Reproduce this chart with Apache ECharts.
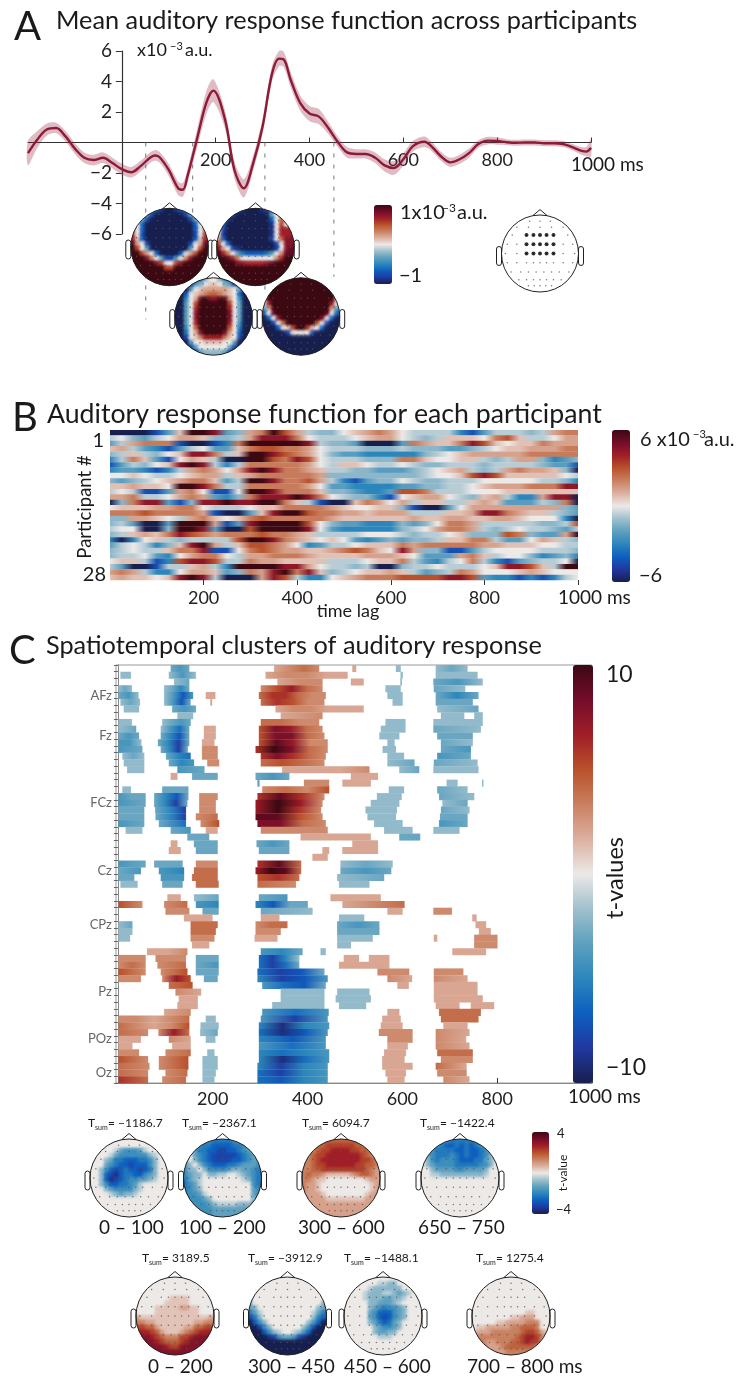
<!DOCTYPE html>
<html><head><meta charset="utf-8">
<script src="https://cdn.jsdelivr.net/npm/echarts@6/dist/echarts.min.js"></script>
<style>html,body{margin:0;padding:0;background:#fff}#c{width:736px;height:1376px}</style>
</head><body><div id="c"></div>
<script>
const FONT='Lato';
const palette=['#171f4f','#21389f','#0d5fbf','#2c86bb','#5da0bf','#a0c0cd','#ece9e7','#dcb0a0','#c9805f','#b9512c','#a01e27','#740d2a','#3c0812'];
// Panel A: mean response
const lagMs=[-200,-180,-160,-140,-120,-100,-80,-60,-40,-20,0,20,40,60,70,80,100,120,130,140,160,180,195,220,240,260,280,300,320,335,345,360,380,400,420,440,460,480,500,520,540,560,580,600,620,645,660,680,700,720,740,760,780,800,820,840,860,880,900,920,940,960,980,990,1000];
const meanResp=[-0.7,0.2,0.85,0.95,0.4,-0.4,-1.0,-1.15,-1.0,-1.35,-1.75,-1.95,-1.55,-1.0,-0.85,-0.95,-1.8,-3.0,-3.1,-2.2,0.2,2.6,3.4,1.5,-1.8,-3.0,-1.35,1.05,4.5,5.5,5.45,4.1,2.6,1.9,1.7,0.95,0.05,-0.65,-0.75,-0.75,-1.0,-1.5,-1.67,-1.1,-0.25,0.05,-0.25,-0.9,-1.3,-1.1,-0.7,-0.1,0.12,0.1,0.02,-0.02,0,0,-0.05,-0.05,-0.1,-0.3,-0.55,-0.6,-0.35];
const bandHalf=[.8,.55,.4,.35,.35,.35,.35,.35,.35,.35,.35,.35,.35,.35,.35,.35,.4,.45,.45,.45,.6,.75,.75,.6,.55,.6,.5,.5,.5,.5,.5,.5,.5,.5,.5,.4,.35,.35,.3,.3,.35,.4,.45,.4,.35,.35,.3,.3,.3,.3,.3,.25,.25,.25,.2,.2,.2,.2,.2,.2,.2,.2,.25,.3,.55];
const dashLags=[51,151,305,452];
const dashEnds=[-11.6,-10,-9.7,-8.8];
const lagTicks=[200,400,600,800];
const ampTicks=[-6,-4,-2,2,4,6];
// Panel B: participant responses, 0..1000 ms in 25 ms steps, read as colour steps -6..6
const participantRows=[
[-6,-6,-6,-6,-5,-3,1,6,6,5,-3,-2,2,3,6,4,2,-1,-2,-2,0,1,2,3,2,0,-1,-1,-1,-1,-4,-5,-3,-1,-1,-1,-2,-1,2,3,3],
[-1,0,-2,-3,-1,0,2,2,1,-2,-2,-1,2,5,5,5,3,0,-1,-1,-1,0,1,2,2,0,-1,-2,-1,1,1,1,0,3,4,1,-1,-1,0,2,2],
[-3,-1,2,3,3,3,-5,-6,-6,-5,-4,3,6,6,6,6,6,5,-1,-2,-2,-3,-6,-6,-6,-3,3,2,1,1,3,5,4,1,0,1,1,3,2,2,2],
[1,2,-1,-3,-4,-5,-3,-1,0,-3,-3,1,3,4,4,3,3,2,0,-1,-1,-1,-2,-2,-2,-1,-2,-2,-2,-3,-3,-2,-1,0,1,1,2,2,2,3,3],
[-2,-1,1,-1,-2,0,1,5,5,3,-1,1,6,6,5,4,3,2,0,-2,-3,-3,-4,-4,-4,-4,-4,-2,-1,0,1,2,2,2,2,2,3,3,3,3,3],
[-4,-1,3,1,-3,-5,0,2,1,-1,-6,-6,6,6,4,3,5,4,0,-1,-1,-1,-2,-2,-2,3,3,1,0,0,1,1,-1,-2,-1,2,2,-2,-4,-3,-2],
[-5,-3,-1,-2,0,1,5,6,5,-1,-4,-1,3,3,3,3,3,2,0,-1,1,1,0,-1,-1,0,-1,-2,-2,-1,-1,-1,-2,-1,-1,-1,-1,-2,-3,-3,-5],
[-4,-3,-3,-4,-5,-4,-1,2,3,2,0,2,5,6,5,3,3,2,1,-1,-1,-2,-2,-3,-3,-3,-2,-1,0,1,2,-1,-2,-1,2,3,2,2,1,-2,-6],
[0,0,1,0,-1,-1,0,1,2,2,-1,1,2,3,3,3,3,3,2,-2,-2,-2,-2,-2,-2,-2,-2,-1,0,0,1,4,5,4,1,1,1,1,1,0,-1],
[-2,-3,-2,-1,0,1,2,3,3,1,-3,-1,6,6,5,3,3,4,2,-1,-4,-5,-3,-2,-2,0,-1,-2,-2,-1,-1,-1,0,0,0,0,0,-1,-1,-2,-4],
[1,1,2,1,1,0,6,6,5,3,-1,-1,3,3,3,3,3,2,0,-3,-3,-4,-4,-4,-4,-3,-3,-2,-2,-1,-1,0,1,2,2,2,3,3,3,5,5],
[-1,0,-1,-5,-5,-3,2,3,0,-5,-5,0,6,6,5,3,3,3,1,-2,-2,-3,-4,-4,-3,4,4,3,-1,-1,-1,0,0,0,1,1,1,1,1,1,1],
[2,2,3,-1,-1,0,2,3,2,-3,-4,-2,3,5,5,5,6,5,3,0,-1,-2,-2,-4,-5,0,1,2,2,0,-1,-2,1,2,-1,-4,-4,2,5,5,-6],
[-6,-2,3,5,5,-3,-5,-2,5,5,6,5,5,6,6,3,1,-1,-5,-6,-6,1,3,2,0,2,-1,1,1,-1,-1,1,2,1,-3,-3,-3,-1,-2,3,-6],
[0,1,1,1,2,2,3,3,0,-1,-1,-1,0,1,1,3,3,3,3,2,1,0,0,1,1,-2,-5,-6,-6,-3,0,2,2,2,2,2,2,2,2,-2,-3],
[3,3,3,4,3,3,3,3,2,-5,-6,-6,-3,1,5,6,6,4,3,3,2,2,1,2,2,2,-1,-1,-1,1,1,2,5,5,3,2,1,1,-1,-2,-3],
[-2,-2,2,2,1,0,-1,2,3,1,0,1,3,4,3,3,3,3,3,2,1,1,1,1,1,1,2,1,1,2,2,1,1,2,2,1,0,0,0,-4,-6],
[-2,-1,-3,-6,-6,-3,6,6,6,2,-5,-3,5,6,6,6,6,4,0,-2,-3,-3,-4,-4,-4,-2,-3,-2,0,3,3,2,-1,-1,-1,-1,-1,-2,-2,-1,4],
[-1,0,0,-6,-6,-2,6,6,5,-3,-6,-6,4,6,6,6,6,5,0,-3,-4,-4,-4,-4,-4,-2,-1,0,2,3,3,2,-1,-2,-1,0,-1,-1,-2,-3,-1],
[-2,-1,1,2,1,3,5,4,3,2,3,3,3,4,3,3,2,1,-1,-1,-1,-1,0,0,0,-1,-2,-1,-1,0,1,-2,-2,-2,4,3,-2,-3,-3,2,6],
[-4,-6,-4,0,1,-1,-2,-1,-1,-1,-1,4,6,6,5,3,2,1,0,1,0,-3,-4,-3,-2,-3,-2,-2,-1,1,1,3,3,-1,-3,-3,0,2,1,-1,-2],
[-3,-1,0,-1,-4,-2,1,5,6,2,-1,1,4,4,3,2,0,-4,-3,-1,-1,0,1,1,1,3,2,3,3,3,3,3,2,2,1,1,1,0,0,-1,-1],
[-2,-1,0,-1,-1,1,3,3,5,-5,-5,0,3,4,3,2,2,1,1,2,3,4,3,1,0,5,2,-2,-2,-5,-5,-3,-1,0,0,0,0,-1,-1,-1,-2],
[-2,-1,-1,0,-3,-4,0,2,3,3,0,-1,2,2,3,3,3,2,1,1,1,1,2,2,2,1,0,-3,-3,-3,2,3,1,-1,0,0,-2,-4,-3,-2,-4],
[0,1,1,-1,-5,-4,4,5,5,4,-1,-1,3,2,2,1,1,1,1,-1,-1,-1,0,1,1,3,-1,-3,-4,-1,0,3,-1,-4,-5,-3,-2,-1,-1,0,-6],
[-1,-3,-6,-6,-5,-1,-1,1,2,-1,-4,6,6,6,6,5,5,2,0,-1,-1,-2,-1,-6,-6,-2,-1,-1,0,-1,-1,-1,0,1,5,5,4,1,-1,6,6],
[2,3,2,-1,-4,-4,0,2,2,1,-3,-2,3,2,5,6,3,5,1,-2,-1,0,1,1,2,1,-1,-3,-2,-1,3,2,0,0,0,1,2,1,0,0,0],
[1,2,1,1,0,1,5,6,5,-1,-6,-6,-6,2,5,4,-1,-4,-4,0,1,2,3,3,3,4,4,4,4,5,5,4,-3,-4,-4,-5,-4,-5,-4,-1,0]
];
// colour step -> x10^-3 a.u. (steps were read from hue, which is not linear in amplitude)
const stepAmplitude=[0,0.7,1.3,2.1,3.0,4.4,6];
// Panel C: clusters per channel row; each blob = [from ms, to ms, t-values evenly spread across it...]
const clusterRows=[
[[110,152,-3,-4,-3],[328,426,2,3,4,3],[493,504,2],[585,598,-2],[669,739,-2,-3,-2]],
[[4,29,-2],[106,166,-2,-4,-2],[310,486,2,3,3,2,2],[595,602,-2],[669,760,-2,-2,-2]],
[[117,152,-2,-3],[335,433,2,3,3],[490,520,2],[595,600,-2],[664,771,-3,-4,-2]],
[[0,31,-2,-3,-2],[96,152,-2,-3,-5,-3],[300,433,3,5,7,4,3],[563,598,-2,-2],[665,734,-3,-2]],
[[0,45,-3,-4,-2],[96,160,-2,-4,-7,-4],[184,207,2],[296,440,4,6,6,4,3,3],[567,602,-2],[669,762,-3,-5,-3]],
[[4,48,-2,-3,-2],[96,155,-2,-4,-7,-3],[194,200,2],[300,437,4,6,5,3,3],[578,602,-2],[669,750,-3,-3]],
[[11,46,-2],[113,166,-3,-4,-3],[331,520,2,3,3,2,2,2],[672,762,-2,-3]],
[[124,160,-2],[342,433,2,3],[680,732,-2],[750,771,-2]],
[[0,31,-2],[92,155,-2,-3,-4,-3],[300,426,4,4,3,3],[563,608,-2],[664,771,-2,-2,-2]],
[[0,40,-2,-3],[89,152,-2,-4,-6,-3],[180,208,2],[296,433,5,8,7,4,3],[553,608,-2],[664,767,-3,-2]],
[[0,46,-3,-4,-3],[89,152,-3,-5,-7,-3],[180,208,2],[296,437,5,8,8,4,3],[550,595,-2],[672,750,-3]],
[[0,51,-4,-4,-2],[83,152,-3,-5,-8,-3],[176,205,2],[296,444,5,9,7,3,3],[567,585,-2],[680,750,-3,-2]],
[[0,53,-4,-3],[89,149,-3,-5,-8,-3],[176,212,3],[289,444,6,10,8,4,3],[557,588,-2],[680,746,-3,-4]],
[[8,57,-2,-3,-2],[100,155,-3,-5,-6],[176,212,3],[300,440,6,8,6,4,3],[567,605,-2],[672,746,-4,-3]],
[[11,57,-2],[106,162,-3,-5,-4],[187,215,3],[300,437,4,5,4,3],[567,627,-2,-3],[665,760,-3,-2]],
[[18,57,-2],[124,184,-4,-3],[345,532,2,2,2,3],[592,637,-2,-3],[664,762,-2]],
[[110,127,2],[155,212,-3],[289,363,-3,-4,-3],[490,550,2]],
[[293,300,-3],[391,447,3],[472,535,2],[692,718,-2],[767,772,-2]],
[[8,29,-2],[92,150,-3],[303,447,3,4,3,5],[570,605,-2],[672,739,-3,-2]],
[[0,60,-4,-3,-3],[75,150,-3,-5,-7,-3],[170,212,3],[293,437,6,9,6,3],[545,600,-2],[676,753,-3,-2]],
[[0,60,-4,-3],[75,148,-3,-5,-8,-3],[170,208,3],[289,433,7,10,7,3],[532,595,-2],[683,739,-2,-3]],
[[0,57,-3],[77,145,-3,-5,-8],[170,208,3],[289,430,7,10,6,3],[521,590,-2],[680,743,-3,-2]],
[[0,57,-3],[78,145,-3,-5,-8],[163,212,3,4],[289,433,9,9,5,3],[525,588,-2],[678,739,-3]],
[[0,57,-4,-3],[85,145,-3,-6],[173,215,3,5],[293,440,8,8,4,3],[539,602,-2],[676,739,-4,-3]],
[[15,53,-2],[110,155,-3,-4],[184,212,2],[300,444,3,3],[560,623,-2],[664,722,-2]],
[[145,194,-3],[384,535,2,2],[592,639,-3]],
[[110,127,2],[159,212,-3],[291,363,-3,-4,-3],[493,550,2]],
[[106,134,2],[163,212,-3],[296,363,-3],[430,447,2],[472,550,2]],
[[409,444,2]],
[[0,60,-4,-3],[75,138,-3],[163,212,3],[293,388,6,9,4],[468,581,-2,-3,-2]],
[[0,50,-3,-4],[85,141,-4,-5],[159,212,4],[289,388,7,10,9,4],[468,578,-3,-4,-3]],
[[0,36,-3],[89,141,-4],[155,212,4],[293,384,5,6,4],[461,563,-2,-3]],
[[4,43,-2],[92,138,-3],[163,214,4],[293,377,4,3],[465,532,-2]],
[],
[[103,134,2],[159,214,-2,-3],[296,359,-3,-4],[447,556,2]],
[[0,53,5,3],[96,148,3,4],[163,214,-4,-5],[289,402,-5,-7,-3,-3],[472,606,2,3,4]],
[[99,152,3],[177,214,-3],[300,412,-3,-2],[567,602,2],[664,706,3]],
[[138,201,2],[300,342,2],[465,521,-2],[746,758,2]],
[[0,32,-2,-3],[152,212,4],[289,359,3,4,4],[461,553,-3,-4,-3],[753,778,2]],
[[0,32,-2],[152,208,4],[289,345,3],[461,553,-3],[760,788,2]],
[[0,27,-2],[152,205,3],[287,338,2],[461,539,-2],[665,675,2],[750,802,3]],
[[155,194,2],[461,493,-2],[750,802,3]],
[[60,148,2,2,3],[300,391,-4,-5,-3],[426,440,-2],[704,778,2]],
[[0,60,3],[78,145,3],[163,214,-3],[296,384,-6,-8,-5,-2],[475,510,2],[528,574,2]],
[[0,60,3,4,3],[82,145,3,4],[163,214,-3,-4],[296,384,-6,-8,-6,-3],[465,574,2]],
[[0,60,5,3],[89,148,3,5],[163,214,-3],[293,437,-6,-8,-7,-3],[546,616,3],[665,730,3]],
[[0,50,3],[92,155,3,7,5],[180,212,-3],[293,444,-5,-8,-7,-4],[567,622,3,2],[665,739,3,2]],
[[106,159,4,5],[303,440,-4,-6,-7,-3],[588,615,2],[665,760,2]],
[[120,177,3,2],[342,437,-2,-2],[461,532,-2],[665,760,2]],
[[127,170,2],[342,437,-2],[458,535,-2],[665,771,2]],
[[124,170,2],[324,437,-2],[465,525,-2],[669,722,2],[743,795,2]],
[[96,155,2,3],[303,446,-4,-6,-4],[567,595,2],[676,767,4]],
[[0,152,3,3,2,3,4],[184,208,-2],[300,444,-4,-8,-4],[556,598,2],[680,762,4,4]],
[[0,152,4,3,2,3,5],[173,214,-2],[296,447,-5,-9,-5,-4],[553,602,2],[685,739,2]],
[[0,65,4,3],[84,152,3,7,4],[172,212,-2,-3],[296,444,-6,-9,-7,-4],[549,623,3],[669,743,3,2]],
[[0,50,2],[106,155,3,2],[184,207,-2],[296,440,-5,-7,-4],[567,623,3],[669,736,3,2]],
[[0,32,2],[113,155,2],[296,440,-4,-6,-4],[567,613,2],[669,743,3,2]],
[[0,46,3],[99,155,3,4],[187,205,-2],[296,447,-5,-6,-5,-4],[560,609,2],[672,750,4]],
[[0,65,5,3],[85,150,3,5],[177,212,-2],[296,447,-5,-9,-6,-4],[556,606,2],[680,750,3]],
[[0,68,4,3],[85,150,3,5],[177,212,-2],[293,444,-5,-8,-5,-4],[556,623,2],[669,737,4,2]],
[[0,65,4,3],[99,148,3,4],[177,208,-2],[293,444,-6,-8,-5,-4],[563,609,2],[672,737,3]],
[[0,65,6,4],[92,145,3,4],[177,205,-2],[293,444,-6,-7,-5,-4],[567,606,2],[685,743,3,2]]
];
const channelLabels={4:'AFz',10:'Fz',20:'FCz',30:'Cz',38:'CPz',48:'Pz',55:'POz',60:'Oz'};
// Scalp maps: digit = positive level (9 = colour-bar maximum), letter a..i = negative level, '.' = zero
const mapA1=["....efhiihfe....","...cgiiiiiigc...","..cgiiiiiiiigc..",".0fiiiiiiiiiif0.","30fiiiiiiiiiif03","50giiiiiiiiiig05","61fiiiiiiiiiif16","820giiiiiiiig028","950ciiiiiiiic059","99520fiiiif02599","99973.cggc.37999","9999975005799999","9999999559999999","9999999999999999","9999999999999999","9999999999999999"];
const mapA2=["...efhiiihgc....","..egiiiiiiic.3..",".0hiiiiiiiif.4..",".fiiiiiiiiih.5..","0giiiiiiiiih.666","0hiiiiiiiiih.666","2fiiiiiiiiig0477","50fiiiiiiiiig.77","720ghiiiiiiig.78","9630ceffffec0388","9986300000003699","9999776666789999","9999999999999999","9999999999999999","9999999999999999","9999999999999999"];
const mapA3=["iiiigeb..begiiii","iiigcb.11.bcgiii","iiic.1222221.cii","iif.12344321.fii","iid.28977982.dii","iic.59999995.cii","iic.69999996.cii","iic.79999997.cii","iic.79999997.cii","iic.69999996.dii","iid.49999994.eii","iie.27999972.fii","iig.13666631.gii","iiic..1111..ciii","iiigc......cgiii","iiiigcbbbbcgiiii"];
const mapA4=["....99999999....","..99999999999999","4999999999999994","2999999999999992","2999999999999992","0699999999999960","c29999999999992c","f.899999999998.f","if.7999999997.fi","iig.49999994.gii","iiif.159951.fiii","iiiiig....giiiii","iiiiiiiiiiiiiiii","iiiiiiiiiiiiiiii","iiiiiiiiiiiiiiii","iiiiiiiiiiiiiiii"];
const mapC1=["................","................",".....acdddca....","....acddddddba..","...bceefffeedb..","...cdeffgfffdb..","..bdfgfeffgfeb..","..bfghfeeffdcb..","..bfhgfeddccba..","..bdffeedca.....","...bcddddba.....","....abcbba......","................","................","................","................"];
const mapC2=["ccccddeeeedccccc","bbcdeeffffeedcbc","baceeffggffedcbc","b.cdefgggggfedcc","c.bdefggggffedcc","cb.bdefffeedcccd","dbb.bddddcbbccde","dcbb.bbaa..abcde","ecba........abde","edca..........de","edcb..........cd","dddca.........cd","ddddcb........bc","cddddcbaaaabbbcc","ccddddccccccccbc","ccddddccccccccbc"];
const mapC3=["2233444444443322","2234455555544332","3334556666554432","3345566666665433","3345666666665543","3345566666655443","3344555555555432","3433211111234432","3321100000000122","3221000000000012","3221000000000012","2222100000000122","2222211111111222","2222222222222222","2222222222222222","2222222222222222"];
const mapC4=["..abcdeeeeedba..",".bcdeffefefedb..","bcdeeeeffeffedb.","bcdeeedefeffedb.",".bdedddefffeecb.",".bcddddeeeeeddb.","..bccccddccccb..","..aabbbbbbbbba..","................","................","................","................","................","................","................","................"];
const mapC5=["................","................","................","................",".......1111.....","......11111.....","....111112211...","....111111111...","2111111111111112","3322111111112233","5544211111224455","6665421112345666","7776543335567777","7777654445677777","7777776557777777","7777777777777777"];
const mapC6=["................","................","................","................","................","b..............b","cb............bc","eca..........ace","geb..........bef","ifdb........bdfi","iigdb......bdgii","iiifdba..abdfiii","iiiihgdccdghiiii","iiiiiiiiiiiiiiii","iiiiiiiiiiiiiiii","iiiiiiiiiiiiiiii"];
const mapC7=["................",".......aabb.....",".....abbbbbb....","....abbbaabcba..","....abbbccbba...",".....bbcccba....",".....bcdeddcb...",".....cdfffdcb...",".....cdfgfdcb...",".....bcefecb....","......bcddcb....","......bccbb.....",".......aaa......","................","................","................"];
const mapC8=["................","................","................","................","................","................","................","...........11...","........11222...",".....112222333..",".1122222334443..","1222333333455421","2333333334566531","2332233344565521","1332223444444211","..11222333332..."];
const electrodeRows=[[.84,[-.27,0,.27]],[.68,[-.6,-.3,0,.3,.6]],[.48,[-.72,-.35,-.17,0,.17,.35,.72]],[.24,[-.85,-.6,-.35,-.17,0,.17,.35,.6,.85]],[0,[-.9,-.6,-.35,-.17,0,.17,.35,.6,.9]],[-.24,[-.85,-.6,-.35,-.17,0,.17,.35,.6,.85]],[-.48,[-.75,-.5,-.3,-.1,.1,.3,.5,.75]],[-.68,[-.55,-.35,-.17,0,.17,.35,.55]],[-.84,[-.3,-.15,0,.15,.3]]];
const highlightRows=[.48,.24,0];
const highlightX=[-.35,-.17,0,.17,.35];

const stopsRGB=palette.map(h=>[parseInt(h.slice(1,3),16),parseInt(h.slice(3,5),16),parseInt(h.slice(5,7),16)]);
function rgbOf(v,max){let f=Math.max(0,Math.min(1,(v+max)/(2*max)))*(stopsRGB.length-1);const i=Math.min(stopsRGB.length-2,Math.floor(f));f-=i;return stopsRGB[i].map((c,k)=>Math.round(c+(stopsRGB[i+1][k]-c)*f));}
function css(rgb,a){return a===undefined?`rgb(${rgb})`:`rgba(${rgb},${a})`;}

const grids=[],xAxes=[],yAxes=[],series=[];
const axisInk='#333';
function addAxes(g,x,y){grids.push(g);xAxes.push(Object.assign({gridIndex:grids.length-1},x));yAxes.push(Object.assign({gridIndex:grids.length-1},y));return grids.length-1;}

// A
const gA=addAxes({left:28,top:51,width:563,height:183},
 {type:'value',min:-200,max:1000,interval:200,splitLine:{show:false},axisLine:{show:true,onZero:true,lineStyle:{color:axisInk,width:1.2}},axisTick:{show:true,inside:true,length:5,customValues:lagTicks.concat([1000]),lineStyle:{color:axisInk}},axisLabel:{customValues:lagTicks,color:'#222',fontSize:18,margin:-83,fontFamily:FONT,hideOverlap:false}},
 {type:'value',min:-6,max:6,interval:2,splitLine:{show:false},axisLine:{show:true,onZero:true,lineStyle:{color:axisInk,width:1.2}},axisTick:{show:true,length:6,customValues:ampTicks,lineStyle:{color:axisInk}},axisLabel:{customValues:ampTicks,color:'#222',fontSize:19,margin:-84,fontFamily:FONT,formatter:v=>String(v).replace('-','\u2212')}});
dashLags.forEach((t,i)=>series.push({type:'line',xAxisIndex:gA,yAxisIndex:gA,data:[[t,0],[t,dashEnds[i]]],showSymbol:false,clip:false,z:1,silent:true,lineStyle:{color:'#777',width:1,type:[4,7]}}));
series.push({type:'custom',xAxisIndex:gA,yAxisIndex:gA,data:lagMs.map((t,i)=>[t,meanResp[i]-bandHalf[i],meanResp[i]+bandHalf[i]]),encode:{x:0,y:[1,2]},silent:true,z:2,
 renderItem(params,api){ if(params.dataIndex!==0) return null;
  const lo=lagMs.map((t,i)=>api.coord([t,meanResp[i]-bandHalf[i]])),hi=lagMs.map((t,i)=>api.coord([t,meanResp[i]+bandHalf[i]]));
  return {type:'polygon',shape:{points:lo.concat(hi.reverse()),smooth:.3},style:{fill:'rgba(150,30,65,0.3)'}};}});
series.push({type:'line',xAxisIndex:gA,yAxisIndex:gA,data:lagMs.map((t,i)=>[t,meanResp[i]]),smooth:.35,showSymbol:false,lineStyle:{color:'#8e1b35',width:2.4},silent:true,z:3});

// strip renderer for B and C
function stripRenderer(lookup,max,soft){return function(params,api){
 const a=api.coord([api.value(0),api.value(2)]),b=api.coord([api.value(1),api.value(2)]),h=api.size([0,1])[1];
 const lv=lookup[api.value(3)],w=b[0]-a[0];let stops=[];
 const e=soft?Math.min(.3,1.2/w):0;
 const cols=lv.map(v=>rgbOf(v,max));
 if(soft){stops.push({offset:0,color:css(cols[0],0)});stops.push({offset:e,color:css(cols[0],1)});}
 cols.forEach((c,i)=>{const o=cols.length>1?e+(1-2*e)*i/(cols.length-1):e;stops.push({offset:o,color:css(c)});});
 if(cols.length===1)stops.push({offset:1-e,color:css(cols[0])});
 if(soft)stops.push({offset:1,color:css(cols[cols.length-1],0)});
 return {type:'rect',shape:{x:a[0],y:a[1]-h/2,width:w,height:h+.3},style:{fill:{type:'linear',x:0,y:0,x2:1,y2:0,colorStops:stops}}};
};}

// B
const gB=addAxes({left:110,top:430,width:468,height:150},
 {type:'value',min:0,max:1000,interval:200,splitLine:{show:false},axisLine:{show:false},axisTick:{show:true,length:5,customValues:lagTicks.concat([1000]),lineStyle:{color:axisInk}},axisLabel:{customValues:lagTicks,color:'#222',fontSize:18,margin:9,fontFamily:FONT}},
 {type:'category',inverse:true,data:participantRows.map((r,i)=>String(i+1)),axisLine:{show:false},axisTick:{show:false},axisLabel:{show:false}});
const participantAmps=participantRows.map(r=>r.map(s=>Math.sign(s)*stepAmplitude[Math.abs(s)]));
const bData=participantAmps.map((r,i)=>[0,1000,i,i,Math.max(...r)]);
const bIdx=series.length;
series.push({type:'custom',xAxisIndex:gB,yAxisIndex:gB,data:bData,encode:{x:[0,1],y:2},renderItem:stripRenderer(participantAmps,6,false),silent:true});

// C
const gC=addAxes({left:116,top:665,width:476,height:418,show:true,borderColor:'#999',borderWidth:1,backgroundColor:'transparent'},
 {type:'value',min:-4,max:1000,splitLine:{show:false},axisLine:{show:true,lineStyle:{color:'#888'}},axisTick:{show:true,inside:true,length:5,customValues:lagTicks.concat([1000]),lineStyle:{color:axisInk}},axisLabel:{customValues:lagTicks,color:'#222',fontSize:18,margin:7,fontFamily:FONT}},
 {type:'category',inverse:true,data:clusterRows.map((r,i)=>channelLabels[i]||''),axisLine:{show:true,lineStyle:{color:'#888'}},axisTick:{show:true,length:4,interval:0,lineStyle:{color:'#666'}},axisLabel:{interval:0,color:'#666',fontSize:13,margin:4,fontFamily:FONT}});
const blobLevels=[],cData=[];
clusterRows.forEach((blobs,row)=>blobs.forEach(b=>{const lv=b.slice(2);cData.push([b[0],b[1],row,blobLevels.length,lv[0]]);blobLevels.push(lv);}));
const cIdx=series.length;
series.push({type:'custom',xAxisIndex:gC,yAxisIndex:gC,data:cData,encode:{x:[0,1],y:2},renderItem:stripRenderer(blobLevels,10,true),silent:true});

// scalp maps: an opaque cell pass, then a soft pass so cell edges melt like the rendered scalp field
const electrodes=[];electrodeRows.forEach(r=>r[1].forEach(x=>electrodes.push([x,r[0]])));
function decode(ch,max){if(ch>='1'&&ch<='9')return (+ch)/9*max;if(ch>='a'&&ch<='i')return -(ch.charCodeAt(0)-96)/9*max;return 0;}
function topoRender(n){const step=2/n;return function(params,api){
 const c=api.coord([api.value(0),api.value(1)]),s=api.size([step,step]),o=api.coord([0,0]),r=api.size([1,1])[0];
 const col=api.visual('color');
 return {type:'rect',shape:{x:c[0]-s[0]/2-.4,y:c[1]-s[1]/2-.4,width:s[0]+.8,height:s[1]+.8},style:{fill:col},clipPath:{type:'circle',shape:{cx:o[0],cy:o[1],r:r}}};
};}
function topoSoft(n,max){const step=2/n;return function(params,api){
 const c=api.coord([api.value(0),api.value(1)]),s=api.size([step,step]),o=api.coord([0,0]),r=api.size([1,1])[0];
 const rgb=rgbOf(api.value(2),max);
 return {type:'circle',shape:{cx:c[0],cy:c[1],r:s[0]*1.15},style:{fill:{type:'radial',x:.5,y:.5,r:.5,colorStops:[{offset:0,color:css(rgb,.8)},{offset:.5,color:css(rgb,.55)},{offset:1,color:css(rgb,0)}]}},clipPath:{type:'circle',shape:{cx:o[0]-c[0]+c[0],cy:o[1],r:r}}};
};}
const heads=[];
function addMap(rows,cx,cy,r,max){
 const g=addAxes({left:cx-r,top:cy-r,width:2*r,height:2*r},
  {type:'value',min:-1,max:1,show:false,splitLine:{show:false}},{type:'value',min:-1,max:1,show:false,splitLine:{show:false}});
 heads.push([cx,cy,r]);
 let idx=null;
 if(rows){const n=rows.length,cells=[];
  rows.forEach((row,j)=>{for(let i=0;i<n;i++){const x=-1+(i+.5)*2/n,y=1-(j+.5)*2/n;if(Math.hypot(x,y)<1+1.6/n)cells.push([x,y,decode(row[i]||'.',max)]);}});
  idx=[series.length];
  series.push({type:'custom',xAxisIndex:g,yAxisIndex:g,data:cells,renderItem:topoRender(n),silent:true,z:4});
  series.push({type:'custom',xAxisIndex:g,yAxisIndex:g,data:cells,renderItem:topoSoft(n,max),silent:true,z:4,clip:false});}
 series.push({type:'scatter',xAxisIndex:g,yAxisIndex:g,data:electrodes,symbolSize:1.5,itemStyle:{color:'#555'},silent:true,z:5});
 return {g,idx};
}
const amaps=[[mapA1,169.5,247],[mapA2,255.5,247],[mapA3,213.5,316.5],[mapA4,301,316.5]].map(m=>addMap(m[0],m[1],m[2],38.7,1));
const emap=addMap(null,540,253.5,38.5,1);
series.push({type:'scatter',xAxisIndex:emap.g,yAxisIndex:emap.g,data:highlightRows.flatMap(y=>highlightX.map(x=>[x,y])),symbolSize:4,itemStyle:{color:'#000'},silent:true,z:6});
const cmaps=[[mapC1,129,1178],[mapC2,222.5,1178],[mapC3,341,1178],[mapC4,460,1178],[mapC5,175,1316],[mapC6,287.5,1316],[mapC7,383,1316],[mapC8,511,1316]].map(m=>addMap(m[0],m[1],m[2],39,4));

function vm(seriesIndex,dim,max,left,top,w,h){return {type:'continuous',min:-max,max:max,dimension:dim,seriesIndex,left,top,itemWidth:w,itemHeight:h,padding:0,calculable:false,hoverLink:false,text:null,inRange:{color:palette},textStyle:{color:'transparent',fontSize:1},formatter:()=>''};}
const visualMaps=[
 vm(amaps.flatMap(m=>m.idx),2,1,374,205,18,79),
 vm([bIdx],4,6,612,430,18,152),
 vm([cIdx],4,10,573,665,20,418),
 vm(cmaps.flatMap(m=>m.idx),2,4,532,1132,17,82)
];

// text helper
const gfx=[];
function T(x,y,text,size,o={}){gfx.push({type:'text',x,y,rotation:o.rot||0,z:50,silent:true,style:{text,fill:o.color||'#1a1a1a',fontSize:size,fontFamily:FONT,textAlign:o.align||'left',textVerticalAlign:'middle',textBaseline:'middle',verticalAlign:'middle'}});}
T(14,27,'A',40);T(12,418,'B',40);T(9,651,'C',40);
T(56,21,'Mean auditory response function across participants',25.3);
T(47,414,'Auditory response function for each participant',26.7);
T(46,646,'Spatiotemporal clusters of auditory response',25.3);
T(137,50,'x10',18);T(170,46,'\u22123',11);T(185,50,'a.u.',18);
T(571,165,'1000 ms',19);
T(400,213,'1x10',20);T(442,208,'\u22123',12);T(457,213,'a.u.',20);T(399,276,'\u22121',20);
T(640,440,'6 x10',20);T(693,434,'\u22123',11);T(704,440,'a.u.',20);T(639,576,'\u22126',20);
T(558,598,'1000 ms',19);
T(348,611,'time lag',18,{align:'center'});
T(104,441,'1',20,{align:'right'});T(106,575,'28',20,{align:'right'});
T(85,507,'Participant #',18.5,{rot:Math.PI/2,align:'center'});
T(606,675,'10',23);T(606,1068,'\u221210',23);T(615,878,'t-values',23.5,{rot:Math.PI/2,align:'center'});
T(568,1097,'1000 ms',19);
T(557,1134,'4',13);T(556,1210,'\u22124',13);T(563,1173,'t-value',12,{rot:Math.PI/2,align:'center'});
[[88,1123,'= \u22121186.7'],[182,1123,'= \u22122367.1'],[302,1123,'= 6094.7'],[420,1123,'= \u22121422.4'],[142,1258,'= 3189.5'],[248,1258,'= \u22123912.9'],[344,1258,'= \u22121488.1'],[476,1258,'= 1275.4']].forEach(a=>{T(a[0],a[1],'T',12);T(a[0]+7,a[1]+5,'sum',7);T(a[0]+20,a[1],a[2],12);});
[[99,1228,'0 \u2013 100'],[179,1228,'100 \u2013 200'],[298,1228,'300 \u2013 600'],[418,1228,'650 \u2013 750'],[148,1367,'0 \u2013 200'],[248,1367,'300 \u2013 450'],[344,1367,'450 \u2013 600'],[467,1367,'700 \u2013 800 ms']].forEach(a=>T(a[0],a[1],a[2],19));
heads.forEach(([cx,cy,r])=>{
 const ink={stroke:'#222',lineWidth:1};
 gfx.push({type:'circle',z:40,silent:true,shape:{cx,cy,r},style:{...ink,fill:'transparent'}});
 gfx.push({type:'polyline',z:40,silent:true,shape:{points:[[cx-.19*r,cy-.98*r],[cx,cy-1.14*r],[cx+.19*r,cy-.98*r]]},style:{...ink,fill:'transparent'}});
 [-1,1].forEach(s=>gfx.push({type:'rect',z:39,silent:true,shape:{x:s<0?cx-r-5:cx+r,y:cy-7,width:5,height:19,r:2.5},style:{stroke:'#222',lineWidth:1,fill:'#fff'}}));
});

const chart=echarts.init(document.getElementById('c'),null,{renderer:'canvas'});
chart.setOption({animation:false,backgroundColor:'#fff',textStyle:{fontFamily:FONT},tooltip:{show:false},grid:grids,xAxis:xAxes,yAxis:yAxes,visualMap:visualMaps,series,graphic:gfx});
</script></body></html>
